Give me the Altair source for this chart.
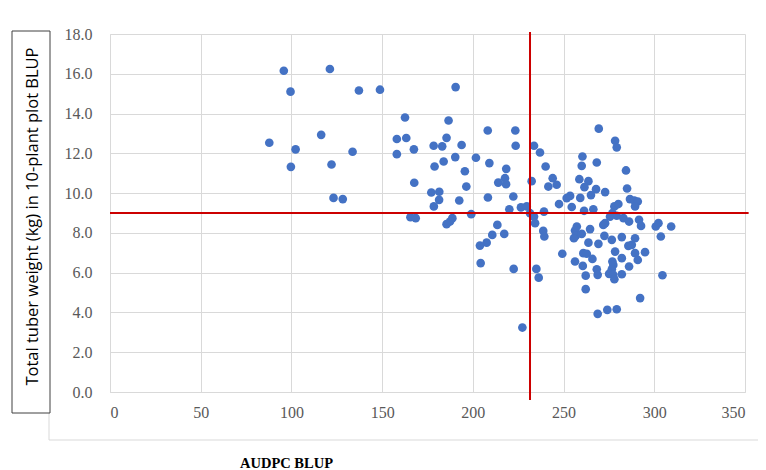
import altair as alt
import pandas as pd

# AUDPC BLUP (x) and total tuber weight BLUP (y)
audpc = [
    87.8, 95.8, 99.5, 99.7, 102.3, 116.4, 121.2, 122.1, 123.2, 128.3, 133.7, 137.2, 148.8,
    158.1, 158.1, 162.6, 163.3, 165.6, 167.5, 167.7, 168.5,
    190.5, 186.6, 208.2, 223.4, 185.5, 178.4, 183.1, 193.8, 223.6, 233.7, 237.0, 190.3,
    183.9, 201.7, 209.1, 178.9, 240.1, 218.4, 195.6, 217.7, 214.0, 218.3, 232.4, 244.0,
    241.6, 246.2, 196.4, 177.1, 181.5, 181.4, 192.5, 208.3, 222.3, 178.5, 220.1, 226.5,
    229.7, 231.5, 233.7, 239.2, 247.5, 199.1, 188.7, 187.4, 185.5, 213.5, 234.3, 238.8,
    239.4, 217.3, 210.7, 207.6, 203.9, 204.3, 222.5, 235.0, 236.3, 227.3,
    269.4, 278.4, 279.3, 260.4, 260.0, 268.3, 284.4, 258.7, 263.7, 261.5, 267.9, 272.9,
    285.0, 253.6, 251.7, 259.2, 265.1, 254.5, 261.3, 266.4, 286.6, 289.0, 290.9, 289.4,
    278.0, 280.2, 276.9, 275.6, 279.3, 283.0, 272.9, 271.9, 286.1, 291.6, 292.7, 300.8,
    302.3, 309.3, 303.6, 257.3, 256.3, 256.7, 255.7, 264.6, 260.0, 272.5, 276.6, 282.1,
    289.4, 263.7, 269.2, 285.7, 287.6, 249.3, 260.9, 262.8, 265.9, 278.4, 282.1, 289.4,
    290.9, 294.9, 256.3, 276.9, 277.4, 276.6, 260.6, 268.3, 286.1, 262.2, 268.8, 275.1,
    277.4, 282.1, 304.5, 278.0, 262.2, 292.2, 268.8, 274.1, 279.3,
]
weight = [
    12.53, 16.15, 15.10, 11.32, 12.20, 12.93, 16.24, 11.44, 9.76, 9.70, 12.08, 15.16, 15.20,
    12.72, 11.96, 13.80, 12.77, 8.79, 12.20, 10.52, 8.74,
    15.33, 13.65, 13.15, 13.15, 12.78, 12.38, 12.35, 12.42, 12.38, 12.38, 12.04, 11.81,
    11.59, 11.78, 11.51, 11.34, 11.34, 11.22, 11.10, 10.75, 10.53, 10.45, 10.60, 10.75,
    10.33, 10.42, 10.33, 10.03, 10.07, 9.66, 9.63, 9.78, 9.83, 9.33, 9.19, 9.28,
    9.33, 8.99, 8.82, 9.07, 9.45, 8.94, 8.74, 8.57, 8.44, 8.40, 8.49, 8.10,
    7.82, 7.95, 7.90, 7.51, 7.36, 6.48, 6.19, 6.19, 5.75, 3.24,
    13.24, 12.63, 12.30, 11.84, 11.37, 11.54, 11.14, 10.70, 10.60, 10.30, 10.20, 10.05,
    10.23, 9.86, 9.75, 9.76, 9.90, 9.30, 9.11, 9.19, 9.70, 9.63, 9.58, 9.33,
    9.33, 9.45, 8.99, 8.82, 8.86, 8.74, 8.49, 8.40, 8.57, 8.66, 8.35, 8.32,
    8.49, 8.32, 7.82, 8.32, 8.12, 7.85, 7.73, 8.19, 7.95, 7.85, 7.65, 7.79,
    7.73, 7.51, 7.45, 7.35, 7.40, 6.95, 6.98, 6.95, 6.69, 7.06, 6.73, 6.98,
    6.64, 7.03, 6.56, 6.56, 6.39, 6.17, 6.34, 6.17, 6.31, 5.85, 5.89, 5.94,
    5.89, 5.92, 5.87, 5.67, 5.17, 4.72, 3.93, 4.13, 4.16,
]

x_ticks = [0, 50, 100, 150, 200, 250, 300, 350]
y_ticks = [0, 2, 4, 6, 8, 10, 12, 14, 16, 18]

# reference lines
vline_x = [231.5]
vline_from = [-0.4]
vline_to = [18.1]
hline_y = [9.0]
hline_from = [0]
hline_to = [352]

df = pd.DataFrame({"AUDPC": audpc, "Weight": weight})
vdf = pd.DataFrame({"AUDPC": vline_x, "Weight": vline_from, "y2": vline_to})
hdf = pd.DataFrame({"Weight": hline_y, "AUDPC": hline_from, "x2": hline_to})
one = pd.DataFrame({"k": [0]})

x_scale = alt.Scale(domain=[0, 350], nice=False, zero=False)
y_scale = alt.Scale(domain=[0, 18], nice=False)

grid_col = "#d9d9d9"
lab_col = "#595959"

x_axis = alt.Axis(
    values=x_ticks, grid=True, gridColor=grid_col, ticks=False, tickSize=0,
    domainColor=grid_col, labelFont="Liberation Serif", labelFontSize=16,
    labelColor=lab_col, labelPadding=12, labelOverlap=False,
    title="AUDPC BLUP", titleFont="Liberation Serif", titleFontSize=14.5,
    titleFontWeight="bold", titleColor="#000000", titleX=176, titleY=71,
    titleAlign="center", titleBaseline="middle",
)
y_axis = alt.Axis(
    values=y_ticks, format=".1f", grid=True, gridColor=grid_col, ticks=False,
    tickSize=0, domainColor=grid_col, labelFont="Liberation Serif",
    labelFontSize=16, labelColor=lab_col, labelPadding=18, labelOverlap=False,
    title="Total tuber weight (kg) in 10-plant plot BLUP", titleFont="Open Sans",
    titleFontSize=16.5, titleFontWeight="normal", titleColor="#000000",
    titleX=-78, titleY=182, titleAngle=270, titleAlign="center",
    titleBaseline="middle",
)

X = alt.X("AUDPC:Q", scale=x_scale, axis=x_axis)
Y = alt.Y("Weight:Q", scale=y_scale, axis=y_axis)

frame_v = alt.Chart(one).mark_rule(color=grid_col, strokeWidth=1).encode(
    x=alt.value(-61), y=alt.value(379), y2=alt.value(406)
)
frame_h = alt.Chart(one).mark_rule(color=grid_col, strokeWidth=1).encode(
    x=alt.value(-61), x2=alt.value(660), y=alt.value(406)
)
box = alt.Chart(one).mark_rect(
    fillOpacity=0, stroke="#404040", strokeWidth=1
).encode(x=alt.value(-98), x2=alt.value(-60), y=alt.value(-3), y2=alt.value(379))

points = alt.Chart(df).mark_circle(size=75, color="#4472C4", opacity=1).encode(
    x=X, y=Y
)

vrule = alt.Chart(vdf).mark_rule(color="#CC0000", strokeWidth=2).encode(
    x=X, y=Y, y2="y2:Q"
)
hrule = alt.Chart(hdf).mark_rule(color="#CC0000", strokeWidth=2).encode(
    x=X, x2="x2:Q", y=Y
)

chart = alt.layer(points, vrule, hrule, frame_v, frame_h, box).properties(
    width=635,
    height=358,
    padding={"left": 102, "top": 26, "right": 13, "bottom": 78},
    autosize=alt.AutoSizeParams(type="none"),
).configure_view(strokeWidth=0).configure_axis(labelOverlap=False)

chart.save("out.html", embed_options={"renderer": "svg", "actions": False})
